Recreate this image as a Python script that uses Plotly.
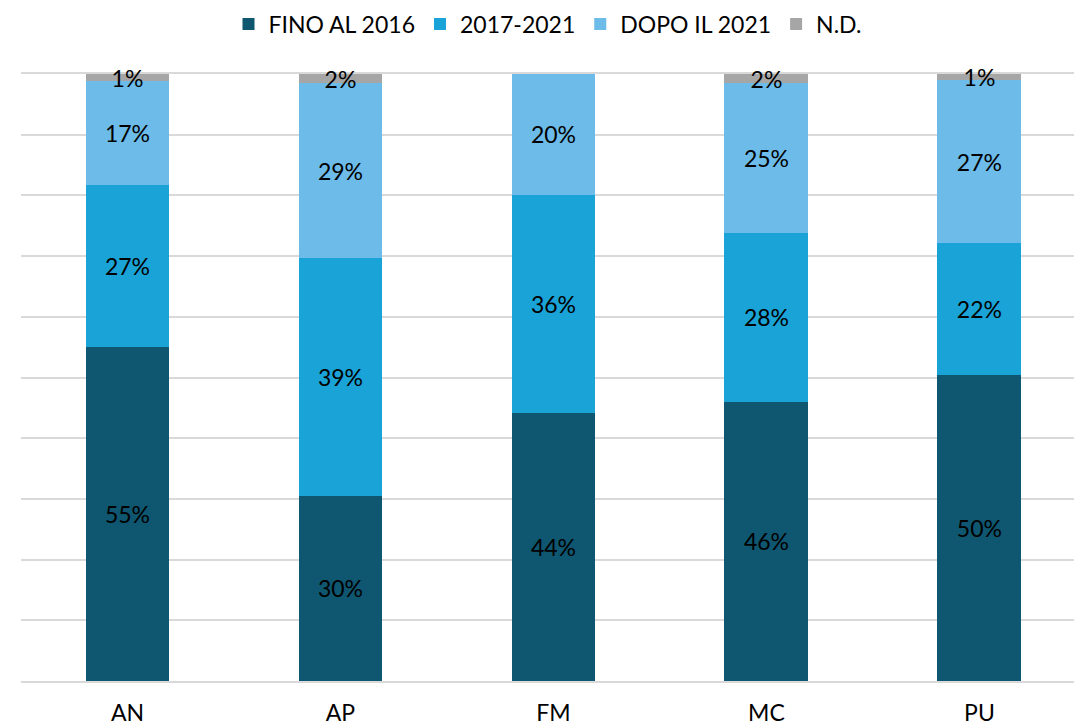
import plotly.graph_objects as go

categories = ["AN", "AP", "FM", "MC", "PU"]
fino_2016 = [55.0, 30.5, 44.2, 46.0, 50.4]
y2017_2021 = [26.7, 39.2, 35.9, 27.8, 21.7]
dopo_2021 = [17.1, 28.8, 19.9, 24.7, 26.9]
nd = [1.2, 1.5, 0, 1.5, 1.0]
series_names = ["FINO AL 2016", "2017-2021", "DOPO IL 2021", "N.D."]
colors = ["#0F5670", "#1AA3D7", "#6CBBE8", "#A6A6A6"]

FONT = "Lato"
FS = 23
fig = go.Figure()
for name, vals, col in zip(series_names, [fino_2016, y2017_2021, dopo_2021, nd], colors):
    fig.add_trace(go.Bar(
        x=categories, y=vals, name=name,
        marker=dict(color=col, line=dict(width=0)),
        text=[f"{v:.0f}%" if v else "" for v in vals],
        textposition="inside", insidetextanchor="middle",
        constraintext="none", cliponaxis=False,
        textfont=dict(family=FONT, size=FS, color="#000000"),
        hoverinfo="skip",
    ))

fig.update_layout(
    barmode="stack", barnorm="percent", bargap=0.606,
    width=1074, height=725,
    margin=dict(l=21, r=0, t=74, b=44),
    paper_bgcolor="white", plot_bgcolor="white",
    font=dict(family=FONT, size=FS, color="#000000"),
    legend=dict(orientation="h", x=0.5, xanchor="center", yref="container",
                y=1 - 24 / 725, yanchor="middle", font=dict(size=FS, family=FONT),
                traceorder="normal", itemwidth=30),
    uniformtext=dict(mode=False),
)
fig.update_yaxes(range=[0, 100], dtick=10, showticklabels=False, showgrid=True,
                 gridcolor="#D9D9D9", gridwidth=2, zeroline=False, fixedrange=True)
fig.update_xaxes(range=[-0.5, 4.444], showgrid=False,
                 showline=True, mirror=True, linecolor="#D9D9D9", linewidth=2,
                 layer="below traces",
                 ticks="outside", ticklen=10, tickcolor="rgba(0,0,0,0)",
                 tickfont=dict(family=FONT, size=FS, color="#000000"))

fig.write_html("out.html", config={"displayModeBar": False},
               post_script="document.body.style.margin='0';document.body.style.overflow='hidden';")
